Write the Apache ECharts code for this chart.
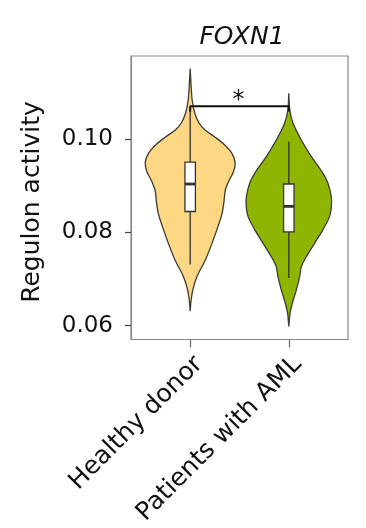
<!DOCTYPE html>
<html>
<head>
<meta charset="utf-8">
<script src="https://cdn.jsdelivr.net/npm/echarts@6/dist/echarts.min.js"></script>
<style>
html,body{margin:0;padding:0;background:#fff;}
#c{width:366px;height:528px;}
</style>
</head>
<body>
<div id="c"></div>
<script>
const categories = ['Healthy donor', 'Patients with AML'];
const yTicks = [0.06, 0.08, 0.10];

// violin outlines: value (y) and half-width (in category units), top to bottom
const healthyY  = [0.1152, 0.1120, 0.1085, 0.1056, 0.1035, 0.1020, 0.1005, 0.0990, 0.0970, 0.0950, 0.0930, 0.0910, 0.0890, 0.0865, 0.0840, 0.0813, 0.0777, 0.0741, 0.0706, 0.0680, 0.0656, 0.0631];
const healthyHW = [0.000, 0.008, 0.020, 0.047, 0.090, 0.150, 0.250, 0.340, 0.423, 0.456, 0.438, 0.390, 0.355, 0.342, 0.322, 0.282, 0.222, 0.154, 0.070, 0.030, 0.010, 0.000];
const amlY  = [0.1099, 0.1063, 0.1034, 0.0998, 0.0963, 0.0927, 0.0906, 0.0877, 0.0856, 0.0834, 0.0806, 0.0777, 0.0748, 0.0727, 0.0706, 0.0677, 0.0649, 0.0627, 0.0598];
const amlHW = [0.000, 0.010, 0.044, 0.128, 0.228, 0.346, 0.396, 0.430, 0.432, 0.413, 0.346, 0.262, 0.178, 0.128, 0.111, 0.077, 0.037, 0.013, 0.000];

// box stats: [lower whisker, Q1, median, Q3, upper whisker]
const healthyBox = [0.0731, 0.0845, 0.0904, 0.0951, 0.1062];
const amlBox     = [0.0702, 0.0801, 0.0856, 0.0904, 0.0995];

// significance bracket
const bracketLine = [[0, 0.1060], [0, 0.1071], [1, 0.1071], [1, 0.1060]];
const starMark = [0.49, 0.1083];
const starText = '*';

const profiles = [
  {y: healthyY, hw: healthyHW, box: healthyBox, color: '#FDD784'},
  {y: amlY, hw: amlHW, box: amlBox, color: '#8FB500'}
];

const FONT = 'DejaVu Sans';
const chart = echarts.init(document.getElementById('c'), null, {renderer: 'canvas'});

function renderViolin(params, api) {
  const g = api.value(0);
  const p = profiles[g];
  const right = [], left = [];
  for (let i = 0; i < p.y.length; i++) {
    right.push(api.coord([g + p.hw[i], p.y[i]]));
  }
  for (let i = p.y.length - 1; i >= 0; i--) {
    left.push(api.coord([g - p.hw[i], p.y[i]]));
  }
  const pts = right.concat(left);
  const bw = 0.053;
  const b = p.box;
  const tl = api.coord([g - bw, b[3]]);
  const br = api.coord([g + bw, b[1]]);
  const wTop = api.coord([g, b[4]]);
  const wBot = api.coord([g, b[0]]);
  const mL = api.coord([g - bw, b[2]]);
  const mR = api.coord([g + bw, b[2]]);
  return {
    type: 'group',
    children: [
      {type: 'polygon', shape: {points: pts, smooth: 0.3},
       style: {fill: p.color, stroke: '#3b3a33', lineWidth: 1.3}},
      {type: 'line', shape: {x1: wTop[0], y1: wTop[1], x2: wBot[0], y2: wBot[1]},
       style: {stroke: '#333', lineWidth: 1.3}},
      {type: 'rect', shape: {x: tl[0], y: tl[1], width: br[0] - tl[0], height: br[1] - tl[1]},
       style: {fill: '#fff', stroke: '#333', lineWidth: 1.3}},
      {type: 'line', shape: {x1: mL[0], y1: mL[1], x2: mR[0], y2: mR[1]},
       style: {stroke: '#333', lineWidth: 2.8}}
    ]
  };
}

function renderStar(params, api) {
  const c = api.coord([api.value(0), api.value(1)]);
  return {
    type: 'text',
    x: c[0], y: c[1],
    style: {text: starText, fontSize: 24, fontFamily: FONT, fill: '#111', align: 'center', verticalAlign: 'middle'}
  };
}

chart.setOption({
  animation: false,
  backgroundColor: '#fff',
  title: {
    text: 'FOXN1', left: 237, top: 20, textAlign: 'center',
    textStyle: {fontStyle: 'italic', fontWeight: 'normal', fontSize: 25, fontFamily: FONT, color: '#111'}
  },
  graphic: [{
    type: 'text', x: 32, y: 202, rotation: Math.PI / 2,
    style: {text: 'Regulon activity', fontSize: 25, fontFamily: FONT, fill: '#111', align: 'center', verticalAlign: 'middle'}
  }],
  grid: {left: 131, right: 18, top: 56, bottom: 188, show: true, borderColor: '#8a8a8a', borderWidth: 1.2},
  xAxis: {
    type: 'value', min: -0.6, max: 1.6,
    splitLine: {show: false},
    axisLine: {show: true, onZero: false, lineStyle: {color: '#8a8a8a', width: 1.2}},
    axisTick: {show: true, customValues: [0, 1], length: 8, lineStyle: {color: '#666', width: 1.2}},
    axisLabel: {customValues: [0, 1], formatter: v => categories[Math.round(v)], rotate: 45, margin: 12,
      align: 'right', verticalAlign: 'top',
      fontSize: 25, fontFamily: FONT, color: '#111'}
  },
  yAxis: {
    type: 'value', min: 0.057, max: 0.1179,
    splitLine: {show: false},
    axisLine: {show: true, onZero: false, lineStyle: {color: '#8a8a8a', width: 1.2}},
    axisTick: {show: true, customValues: yTicks, length: 6, lineStyle: {color: '#444', width: 1.2}},
    axisLabel: {customValues: yTicks, formatter: v => v.toFixed(2), margin: 18,
      fontSize: 23, fontFamily: FONT, color: '#111'}
  },
  series: [
    {type: 'custom', renderItem: renderViolin, data: [[0], [1]], clip: false, z: 2},
    {type: 'line', data: bracketLine, symbol: 'none', lineStyle: {color: '#111', width: 2}, z: 3, silent: true},
    {type: 'custom', renderItem: renderStar, data: [starMark], z: 4}
  ]
});
</script>
</body>
</html>
